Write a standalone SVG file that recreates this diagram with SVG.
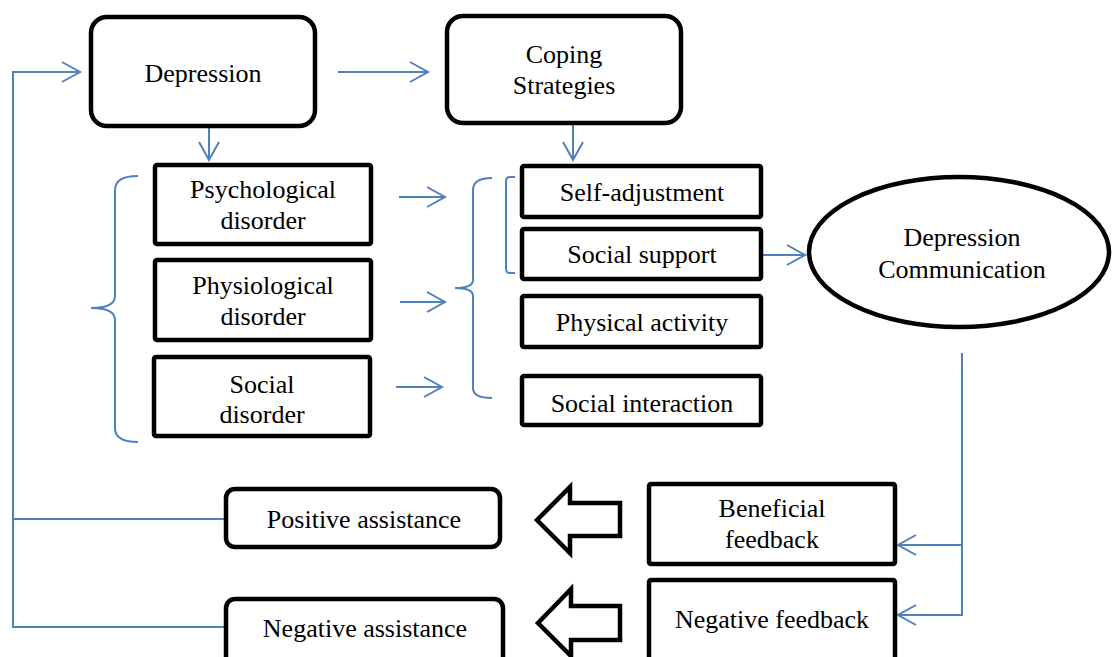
<svg xmlns="http://www.w3.org/2000/svg" width="1112" height="657" viewBox="0 0 1112 657">
<style>
.box{fill:#fff;stroke:#000;stroke-width:4.5}
.t{font-family:"Liberation Serif","Times New Roman",serif;font-size:26px;fill:#000;text-anchor:middle}
.c{fill:none;stroke:#4f81bd;stroke-width:2}
.blk{fill:#fff;stroke:#000;stroke-width:4.5;stroke-linejoin:miter}
</style>
<defs>
<marker id="ah" markerUnits="userSpaceOnUse" markerWidth="24" markerHeight="24" viewBox="-20 -12 22 24" refX="0" refY="0" orient="auto">
<path d="M -18 -10 L 0 0 L -18 10" fill="none" stroke="#4f81bd" stroke-width="2"/>
</marker>
</defs>
<rect width="1112" height="657" fill="#fff"/>
<g id="connectors">
<path class="c" d="M 224 627 H 13 V 72 H 80" marker-end="url(#ah)"/>
<path class="c" d="M 13 519 H 224"/>
<path class="c" d="M 338 72 H 428" marker-end="url(#ah)"/>
<path class="c" d="M 209 128 V 160" marker-end="url(#ah)"/>
<path class="c" d="M 573 125 V 160" marker-end="url(#ah)"/>
<path class="c" d="M 399 197 H 445" marker-end="url(#ah)"/>
<path class="c" d="M 400 302 H 445" marker-end="url(#ah)"/>
<path class="c" d="M 396 387 H 442" marker-end="url(#ah)"/>
<path class="c" d="M 762 255 H 805" marker-end="url(#ah)"/>
<path class="c" d="M 962 353 V 615 H 898" marker-end="url(#ah)"/>
<path class="c" d="M 962 545 H 898" marker-end="url(#ah)"/>
<path class="c" d="M 138 176 Q 115 176 115 190 V 296 Q 115 308 91 308 Q 115 308 115 320 V 428 Q 115 442 138 442"/>
<path class="c" d="M 492 178 Q 473 178 473 190 V 280 Q 473 288 455 288 Q 473 288 473 296 V 388 Q 473 398 492 398"/>
<path class="c" d="M 515 177 H 510 Q 506 177 506 181 V 269 Q 506 273 510 273 H 515"/>
<polygon class="blk" points="537,520 570,487 570,503 620,503 620,536 570,536 570,553"/>
<polygon class="blk" points="538,623 571,589 571,606 620,606 620,640 571,640 571,656"/>
</g>
<g id="depression">
<rect class="box" x="91" y="17" width="224" height="109" rx="16"/>
<text class="t" x="203" y="82">Depression</text>
</g>
<g id="coping">
<rect class="box" x="447" y="16" width="234" height="107" rx="16"/>
<text class="t" x="564" y="63">Coping</text>
<text class="t" x="564" y="94">Strategies</text>
</g>
<g id="psychological">
<rect class="box" x="155" y="165" width="216" height="79" rx="2"/>
<text class="t" x="263" y="198">Psychological</text>
<text class="t" x="263" y="229">disorder</text>
</g>
<g id="physiological">
<rect class="box" x="155" y="260" width="216" height="80" rx="2"/>
<text class="t" x="263" y="294">Physiological</text>
<text class="t" x="263" y="325">disorder</text>
</g>
<g id="social-disorder">
<rect class="box" x="154" y="357" width="216" height="79" rx="2"/>
<text class="t" x="262" y="393">Social</text>
<text class="t" x="262" y="423">disorder</text>
</g>
<g id="self-adjustment">
<rect class="box" x="522" y="166" width="239" height="51" rx="2"/>
<text class="t" x="642" y="201">Self-adjustment</text>
</g>
<g id="social-support">
<rect class="box" x="522" y="229" width="239" height="50" rx="2"/>
<text class="t" x="642" y="263">Social support</text>
</g>
<g id="physical-activity">
<rect class="box" x="522" y="296" width="239" height="51" rx="2"/>
<text class="t" x="642" y="331">Physical activity</text>
</g>
<g id="social-interaction">
<rect class="box" x="522" y="376" width="239" height="49" rx="2"/>
<text class="t" x="642" y="412">Social interaction</text>
</g>
<g id="depression-communication">
<ellipse class="box" cx="959" cy="252" rx="150" ry="75"/>
<text class="t" x="962" y="246">Depression</text>
<text class="t" x="962" y="278">Communication</text>
</g>
<g id="beneficial-feedback">
<rect class="box" x="649" y="484" width="246" height="80" rx="2"/>
<text class="t" x="772" y="517">Beneficial</text>
<text class="t" x="772" y="548">feedback</text>
</g>
<g id="negative-feedback">
<rect class="box" x="649" y="580" width="246" height="90" rx="2"/>
<text class="t" x="772" y="628">Negative feedback</text>
</g>
<g id="positive-assistance">
<rect class="box" x="226" y="489" width="274" height="58" rx="9"/>
<text class="t" x="364" y="528">Positive assistance</text>
</g>
<g id="negative-assistance">
<rect class="box" x="226" y="599" width="277" height="70" rx="9"/>
<text class="t" x="365" y="637">Negative assistance</text>
</g>
</svg>
